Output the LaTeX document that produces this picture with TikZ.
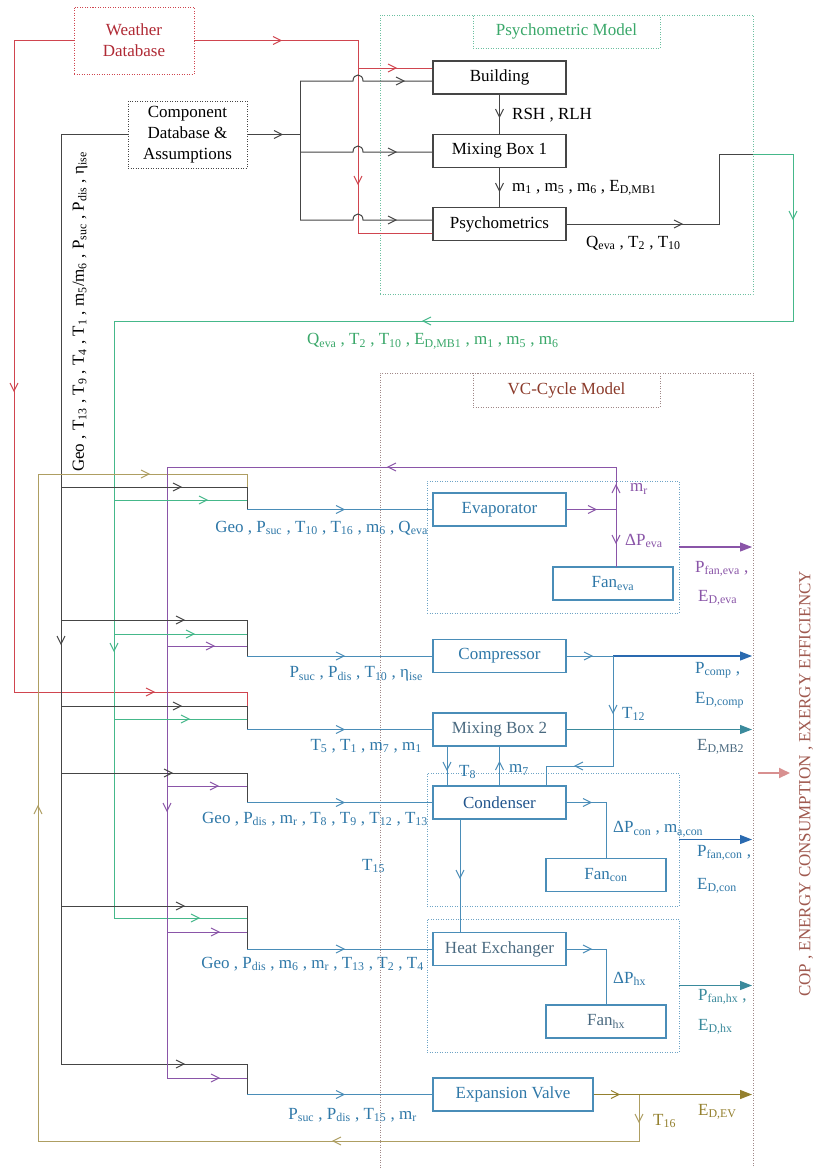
\documentclass[tikz,border=0pt]{standalone}
\usepackage{fontspec}
\setmainfont{Liberation Serif}
\usetikzlibrary{arrows.meta}
\newcommand\subx[1]{\textsubscript{#1}}
\definecolor{redc}{HTML}{D0454F}
\definecolor{redt}{HTML}{B02A35}
\definecolor{grnc}{HTML}{45B88A}
\definecolor{grnt}{HTML}{3AA86A}
\definecolor{grnf}{HTML}{6CC0A0}
\definecolor{bluc}{HTML}{4A8DB8}
\definecolor{blut}{HTML}{2F78A8}
\definecolor{blud}{HTML}{2A6AB0}
\definecolor{purc}{HTML}{8A55A8}
\definecolor{olvc}{HTML}{AE9E62}
\definecolor{olvd}{HTML}{94802E}
\definecolor{blkc}{HTML}{454545}
\definecolor{vcb}{HTML}{A08888}
\definecolor{vct}{HTML}{8B3A2A}
\definecolor{tealc}{HTML}{3A8A9C}
\definecolor{pinkc}{HTML}{D89090}
\definecolor{copt}{HTML}{A05A50}
\definecolor{mbt}{HTML}{4A6A80}
\tikzset{
  txt/.style={font=\fontsize{17}{21}\selectfont, inner sep=0pt},
  lbl/.style={txt, anchor=west},
  lble/.style={txt, anchor=east, text=blut},
  pbox/.style={draw=blkc, line width=1.1pt, txt, minimum width=133pt, minimum height=33pt},
  vbox/.style={draw=bluc, line width=1.1pt, txt, text=blut, minimum width=133pt, minimum height=33pt},
  grp/.style={draw=bluc!80, line width=0.9pt, dash pattern=on 1pt off 1.5pt},
  ln/.style={line width=1pt},
  redl/.style={ln, redc},
  blkl/.style={ln, blkc},
  grnl/.style={ln, grnc},
  purl/.style={ln, purc},
  olvl/.style={ln, olvc},
  blul/.style={ln, bluc},
  outarr/.style={line width=1.2pt, -{Triangle[length=12pt,width=9pt]}},
  chevR/.pic={\draw[line width=1pt] (-4,-4) -- (4,0) -- (-4,4);},
  chevL/.pic={\draw[line width=1pt] (4,-4) -- (-4,0) -- (4,4);},
  chevD/.pic={\draw[line width=1pt] (-4,-4) -- (0,4) -- (4,-4);},
  chevU/.pic={\draw[line width=1pt] (-4,4) -- (0,-4) -- (4,4);},
}
\begin{document}
\begin{tikzpicture}[x=1pt,y=-1pt]
\useasboundingbox (0,0) rectangle (813,1168);
\fill[white] (0,0) rectangle (813,1168);

% ---------- frames ----------
\node[draw=grnf, line width=0.9pt, dash pattern=on 1pt off 1.5pt, minimum width=373pt, minimum height=279pt] (psyM) at (566.5,154.5) {};
\node[draw=grnf, line width=0.9pt, dash pattern=on 1pt off 1.5pt, txt, text=grnt, minimum width=187pt, minimum height=33pt] (psyT) at (566.5,31.5) {Psychometric Model};
\node[draw=vcb, line width=0.9pt, dash pattern=on 1pt off 1.5pt, minimum width=373pt, minimum height=840pt] (vcM) at (566.5,793) {};
\node[draw=vcb, line width=0.9pt, dash pattern=on 1pt off 1.5pt, txt, text=vct, minimum width=187pt, minimum height=34pt] (vcT) at (566.5,390) {VC-Cycle Model};

\node[grp, minimum width=252pt, minimum height=132pt] (evg) at (553,547) {};
\node[grp, minimum width=252pt, minimum height=133pt] (cng) at (553,839.5) {};
\node[grp, minimum width=252pt, minimum height=133pt] (hxg) at (553,985.5) {};

% ---------- data boxes ----------
\node[draw=redc, line width=0.9pt, dash pattern=on 1pt off 1.5pt, txt, text=redt, align=center, minimum width=120pt, minimum height=67pt] (wdb) at (134,40.5) {Weather\\Database};
\node[draw=blkc, line width=0.9pt, dash pattern=on 1pt off 1.5pt, txt, align=center, minimum width=119pt, minimum height=67pt] (cdb) at (187.5,134.5) {Component\\Database \&\\Assumptions};

% ---------- psychometric boxes ----------
\node[pbox] (bld) at (499.5,77.5) {Building};
\node[pbox] (mb1) at (499.5,151) {Mixing Box 1};
\node[pbox] (psy) at (499.5,224) {Psychometrics};

% ---------- VC boxes ----------
\node[vbox] (eva) at (499.5,509.5) {Evaporator};
\node[vbox, minimum width=120pt] (fev) at (613,583.5) {Fan\subx{eva}};
\node[vbox] (cmp) at (499.5,656) {Compressor};
\node[vbox, text=mbt] (mb2) at (499.5,729.5) {Mixing Box 2};
\node[vbox, text=blud!80!black] (con) at (499.5,802.5) {Condenser};
\node[vbox, minimum width=120pt] (fcn) at (606,875) {Fan\subx{con}};
\node[vbox, text=mbt] (hx) at (499.5,949) {Heat Exchanger};
\node[vbox, minimum width=120pt, text=mbt] (fhx) at (606,1021.5) {Fan\subx{hx}};
\node[vbox, minimum width=160pt] (ev) at (513,1094.5) {Expansion Valve};

% ---------- weather (red) ----------
\draw[redl] (wdb.west) -- (14,40.5) -- (14,692) -- (247,692) -- (247,706);
\draw[redl] (wdb.east) -- (358,40.5) -- (358,233) -- (psy.west |- 0,233);
\draw[redl] (358,68) -- (bld.west |- 0,68);
\pic[redc] at (277,40.5) {chevR};
\pic[redc] at (392,68) {chevR};
\pic[redc] at (358,180) {chevD};
\pic[redc] at (14,387) {chevD};
\pic[redc] at (150,692) {chevR};

% ---------- component database (black) ----------
\draw[blkl] (cdb.east) -- (300,134.5);
\draw[blkl] (300,81) -- (300,220);
\foreach \yy/\tg in {81/bld,152/mb1,220/psy}{
  \draw[blkl] (300,\yy) -- (353,\yy) .. controls (353,\yy-8) and (363,\yy-8) .. (363,\yy) -- (\tg.west |- 0,\yy);
}
\pic[blkc] at (278,134.5) {chevR};
\pic[blkc] at (400,81) {chevR};
\pic[blkc] at (392,152) {chevR};
\pic[blkc] at (392,220) {chevR};
\draw[blkl] (cdb.west) -- (61,134.5) -- (61,1064) -- (247,1064) -- (247,1094.5);
\pic[blkc] at (61,640) {chevD};
\pic[blkc] at (180,1064) {chevR};

% psychometric internal
\draw[blkl] (bld.south) -- (mb1.north);
\draw[blkl] (mb1.south) -- (psy.north);
\pic[blkc] at (499.5,113) {chevD};
\pic[blkc] at (499.5,187) {chevD};
\draw[blkl] (psy.east) -- (719,224) -- (719,154) -- (753,154);
\pic[blkc] at (678,224) {chevR};

% ---------- green feedback ----------
\draw[grnl] (753,154) -- (793,154) -- (793,321) -- (114,321) -- (114,918) -- (247,918);
\pic[grnc] at (793,215) {chevD};
\pic[grnc] at (427,321) {chevL};
\pic[grnc] at (114,647) {chevD};
\pic[grnc] at (195,918) {chevR};

% ---------- olive loop ----------
\draw[olvl] (639,1094.5) -- (639,1141) -- (38,1141) -- (38,474) -- (247,474) -- (247,487);
\pic[olvc] at (639,1118) {chevD};
\pic[olvc] at (337,1141) {chevL};
\pic[olvc] at (38,810) {chevU};
\pic[olvc] at (145,474) {chevR};

% ---------- purple (m_r) ----------
\draw[purl] (eva.east) -- (616,509.5);
\draw[purl] (616,567) -- (616,467) -- (167,467) -- (167,1078) -- (247,1078);
\pic[purc] at (592,509.5) {chevR};
\pic[purc] at (616,489) {chevU};
\pic[purc] at (616,539) {chevD};
\pic[purc] at (392,467) {chevL};
\pic[purc] at (167,807) {chevD};
\pic[purc] at (215,1078) {chevR};

% ---------- row bundles ----------
\draw[blkl] (61,487) -- (247,487) -- (247,509.5);
\draw[grnl] (114,500) -- (247,500);
\pic[blkc] at (177,487) {chevR};
\pic[grnc] at (203,500) {chevR};
\draw[blkl] (61,620) -- (247,620) -- (247,656);
\draw[grnl] (114,634) -- (247,634);
\draw[purl] (167,646) -- (247,646);
\pic[blkc] at (180,620) {chevR};
\pic[grnc] at (190,634) {chevR};
\pic[purc] at (210,646) {chevR};
\draw[blkl] (61,706) -- (247,706) -- (247,729.5);
\draw[grnl] (114,719) -- (247,719);
\pic[blkc] at (177,706) {chevR};
\pic[grnc] at (185,719) {chevR};
\draw[blkl] (61,773) -- (247,773) -- (247,802.5);
\draw[purl] (167,786) -- (247,786);
\pic[blkc] at (168,773) {chevR};
\pic[purc] at (214,786) {chevR};
\draw[blkl] (61,906) -- (247,906) -- (247,949);
\draw[purl] (167,932) -- (247,932);
\pic[blkc] at (180,906) {chevR};
\pic[purc] at (215,932) {chevR};

% blue inputs
\draw[blul] (247,509.5) -- (eva.west);
\draw[blul] (247,656) -- (cmp.west);
\draw[blul] (247,729.5) -- (mb2.west);
\draw[blul] (247,802.5) -- (con.west);
\draw[blul] (247,949) -- (hx.west);
\draw[blul] (247,1094.5) -- (ev.west);
\foreach \yy in {509.5,656,729.5,802.5,949,1094.5}{\pic[bluc] at (340,\yy) {chevR};}

% ---------- VC internal connections ----------
\draw[blul] (cmp.east) -- (613,656);
\draw[ln, blud, outarr] (613,656) -- (752,656);
\pic[bluc] at (588,656) {chevR};
\draw[blul] (613,656) -- (613,766) -- (546,766) -- (546,786);
\pic[bluc] at (613,709) {chevD};
\pic[bluc] at (579,766) {chevL};

\draw[blul] (447,746) -- (447,786);
\pic[bluc] at (447,766) {chevD};
\draw[blul] (con.north) -- (mb2.south);
\pic[bluc] at (499.5,766) {chevU};

\draw[blul] (con.east) -- (606,802.5) -- (fcn.north);
\pic[bluc] at (587,802.5) {chevR};
\draw[blul] (460,819) -- (460,932);
\pic[bluc] at (460,874) {chevD};

\draw[blul] (hx.east) -- (606,949) -- (fhx.north);
\pic[bluc] at (587,949) {chevR};

\draw[ln, olvd] (ev.east) -- (639,1094.5);
\draw[olvd, outarr] (639,1094.5) -- (752,1094.5);
\pic[olvd] at (615,1094.5) {chevR};

% outputs
\draw[purc, outarr] (evg.east) -- (752,547);
\draw[tealc, outarr] (mb2.east) -- (752,729.5);
\draw[blud, outarr] (cng.east) -- (752,839.5);
\draw[tealc, outarr] (hxg.east) -- (752,985.5);

\coordinate (bigA) at (758,773);
\coordinate (bigB) at (790,773);
\draw[pinkc, line width=2pt, -{Triangle[length=11pt,width=10pt]}] (bigA) -- (bigB);

% ---------- labels ----------
\node[lbl] at (512,115) {RSH , RLH};
\node[lbl] at (512,188) {m\subx{1} , m\subx{5} , m\subx{6} , E\subx{D,MB1}};
\node[lbl] at (586,243) {Q\subx{eva} , T\subx{2} , T\subx{10}};
\node[lbl, text=grnt] at (307,341) {Q\subx{eva} , T\subx{2} , T\subx{10} , E\subx{D,MB1} , m\subx{1} , m\subx{5} , m\subx{6}};

\node[lble] at (428,528) {Geo , P\subx{suc} , T\subx{10} , T\subx{16} , m\subx{6} , Q\subx{eva}};
\node[lble] at (423,674) {P\subx{suc} , P\subx{dis} , T\subx{10} , η\subx{ise}};
\node[lble] at (422,746) {T\subx{5} , T\subx{1} , m\subx{7} , m\subx{1}};
\node[lble] at (428,819) {Geo , P\subx{dis} , m\subx{r} , T\subx{8} , T\subx{9} , T\subx{12} , T\subx{13}};
\node[lble] at (424,964) {Geo , P\subx{dis} , m\subx{6} , m\subx{r} , T\subx{13} , T\subx{2} , T\subx{4}};
\node[lble] at (417,1115) {P\subx{suc} , P\subx{dis} , T\subx{15} , m\subx{r}};

\node[lbl, text=purc] at (630,489) {m\subx{r}};
\node[lbl, text=purc] at (625,541) {ΔP\subx{eva}};
\node[lbl, text=purc] at (695,569) {P\subx{fan,eva} ,};
\node[lbl, text=purc] at (698,598) {E\subx{D,eva}};

\node[lbl, text=blut] at (622,714) {T\subx{12}};
\node[lbl, text=blut] at (459,772) {T\subx{8}};
\node[lbl, text=blut] at (509,770) {m\subx{7}};
\node[lbl, text=blut] at (613,829) {ΔP\subx{con} , m\subx{a,con}};
\node[lbl, text=blut] at (362,866) {T\subx{15}};
\node[lbl, text=blut] at (613,979) {ΔP\subx{hx}};
\node[lbl, text=blut] at (695,670) {P\subx{comp} ,};
\node[lbl, text=blut] at (695,700) {E\subx{D,comp}};
\node[lbl, text=mbt] at (697,747) {E\subx{D,MB2}};
\node[lbl, text=blut] at (697,853) {P\subx{fan,con} ,};
\node[lbl, text=blut] at (697,886) {E\subx{D,con}};
\node[lbl, text=tealc] at (698,997) {P\subx{fan,hx} ,};
\node[lbl, text=tealc] at (698,1027) {E\subx{D,hx}};
\node[lbl, text=olvd] at (653,1121) {T\subx{16}};
\node[lbl, text=olvd] at (698,1112) {E\subx{D,EV}};

\node[txt, rotate=90] at (80,312) {Geo , T\subx{13} , T\subx{9} , T\subx{4} , T\subx{1} , m\subx{5}/m\subx{6} , P\subx{suc} , P\subx{dis} , η\subx{ise}};
\node[txt, rotate=90, text=copt] at (806,784) {COP , ENERGY CONSUMPTION , EXERGY EFFICIENCY};
\end{tikzpicture}
\end{document}
